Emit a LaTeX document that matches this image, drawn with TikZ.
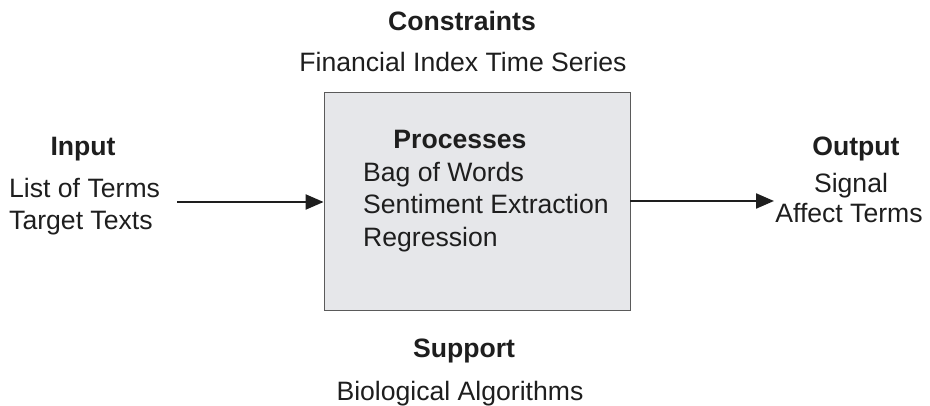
\documentclass[tikz,border=0pt]{standalone}
\usepackage{fontspec}
\setmainfont{Liberation Sans}
\usetikzlibrary{arrows.meta}
\definecolor{boxfill}{RGB}{230,231,234}
\definecolor{boxline}{RGB}{90,90,90}
\definecolor{txt}{RGB}{30,30,30}
\begin{document}
\begin{tikzpicture}[x=1pt,y=-1pt,
  lbl/.style={inner sep=0pt,font=\fontsize{26.6}{31}\selectfont,text=txt},
  hd/.style={lbl,font=\fontsize{26.6}{31}\selectfont\bfseries},
  flow/.style={line width=2.2pt,draw=txt,-{Triangle[length=18pt,width=15pt]}}]
\useasboundingbox (0,0) rectangle (930,406);
\node[draw=boxline,fill=boxfill,line width=0.8pt,minimum width=306pt,minimum height=218pt,inner sep=0pt] (box) at (477,201.5) {};
\node[hd,anchor=base] (cons) at (462,31) {Constraints};
\node[lbl,anchor=base] (fin) at (463,72) {Financial Index Time Series};
\node[hd,anchor=base] (inp) at (83,156) {Input};
\node[lbl,anchor=base west] (lot) at (9,198) {List of Terms};
\node[lbl,anchor=base west] (tt) at (9,230) {Target Texts};
\node[hd,anchor=base] (proc) at (460,149) {Processes};
\node[lbl,anchor=base west] (bow) at (363,182) {Bag of Words};
\node[lbl,anchor=base west] (se) at (363,214) {Sentiment Extraction};
\node[lbl,anchor=base west] (reg) at (363,247) {Regression};
\node[hd,anchor=base] (out) at (856,156) {Output};
\node[lbl,anchor=base] (sig) at (851,193) {Signal};
\node[lbl,anchor=base] (aff) at (849,223) {Affect Terms};
\node[hd,anchor=base] (sup) at (464,357) {Support};
\node[lbl,anchor=base] (bio) at (460,400) {Biological Algorithms};
\coordinate (a1) at (177,202);
\coordinate (a2) at (774,201);
\draw[flow] (a1) -- (a1 -| box.west);
\draw[flow] (box.east |- a2) -- (a2);
\end{tikzpicture}
\end{document}
